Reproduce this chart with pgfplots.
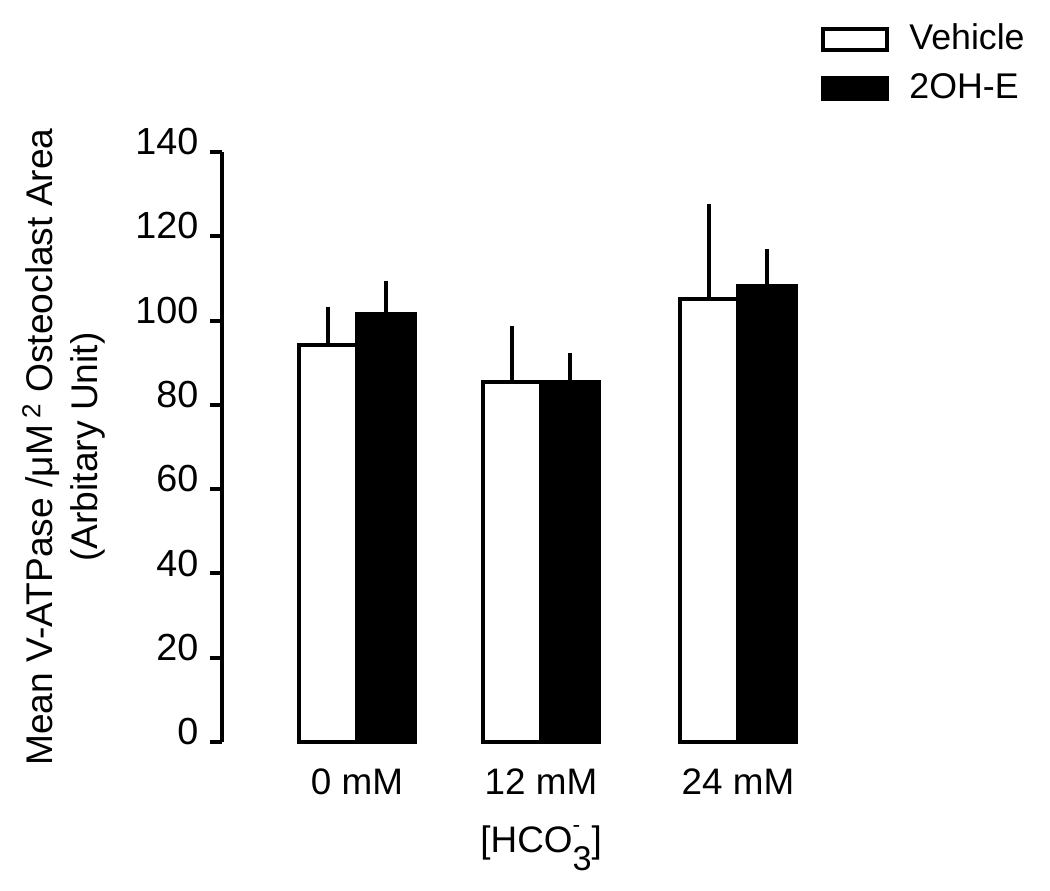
\documentclass[border=0pt]{standalone}
\usepackage{fontspec}
\setmainfont{Liberation Sans}
\usepackage{pgfplots}
\pgfplotsset{compat=1.18}
\begin{document}
\fontsize{12.2}{15.75}\selectfont
\begin{tikzpicture}
\useasboundingbox (-77.7pt,-51.8pt) rectangle (289.8pt,259.7pt);
\begin{axis}[
  at={(0,0)}, anchor=south west,
  scale only axis, width=212.8pt, height=206.5pt,
  xmin=0, xmax=608, ymin=0, ymax=140,
  axis x line=bottom, axis y line=left,
  x axis line style={draw=none},
  y axis line style={-, line width=1.4pt},
  ytick={0,20,...,140},
  ytick style={line width=1.4pt, black},
  tick align=outside, major tick length=4.2pt,
  xtick={135,319,516},
  xticklabels={0 mM,12 mM,24 mM},
  xtick style={draw=none},
  xticklabel style={yshift=-0.8pt, font=\fontsize{12.9}{14}\selectfont},
  /pgf/number format/assume math mode=true,
  yticklabel style={xshift=0.2pt, yshift=3.6pt, font=\fontsize{13.2}{14}\selectfont},
  every axis y label/.style={at={(axis description cs:-0.26,0.5)}, rotate=90, anchor=center, align=center, font=\fontsize{13}{15.75}\selectfont},
  ylabel={Mean V-ATPase /μM\,\textsuperscript{2} Osteoclast Area\\(Arbitary Unit)},
  every axis x label/.style={at={(axis description cs:0.525,-0.18)}, anchor=center, font=\fontsize{12.9}{14}\selectfont},
  xlabel={[HCO\rlap{\raisebox{0.55em}{\footnotesize -}}\raisebox{-0.5em}{\fontsize{12}{14}\selectfont 3}]},
  ybar, bar width=58, bar shift=0pt,
  legend image code/.code={\draw[#1,line width=1.4pt] (0pt,-3.6pt) rectangle (22.4pt,3.6pt);},
  legend style={at={(axis description cs:0.985,1.228)}, anchor=north west, draw=none, fill=none, inner sep=0pt, row sep=2.5pt, column sep=5pt,
    font=\fontsize{12.5}{14}\selectfont, cells={anchor=west}},
  legend cell align=left,
  error bars/y dir=plus, error bars/y explicit,
  error bars/error mark=none,
  error bars/error bar style={line width=1.4pt, black},
  clip=false,
]
\addplot[draw=black, fill=white, line width=1.4pt] coordinates {
  (106,94.1) +- (0,9.1)
  (290,85.4) +- (0,13.4)
  (487,105.1) +- (0,22.5)
};
\addlegendentry{Vehicle}
\addplot[draw=black, fill=black, line width=1.4pt] coordinates {
  (164,101.6) +- (0,7.9)
  (348,85.4) +- (0,6.9)
  (545,108.1) +- (0,8.9)
};
\addlegendentry{2OH-E}
\end{axis}
\end{tikzpicture}
\end{document}
